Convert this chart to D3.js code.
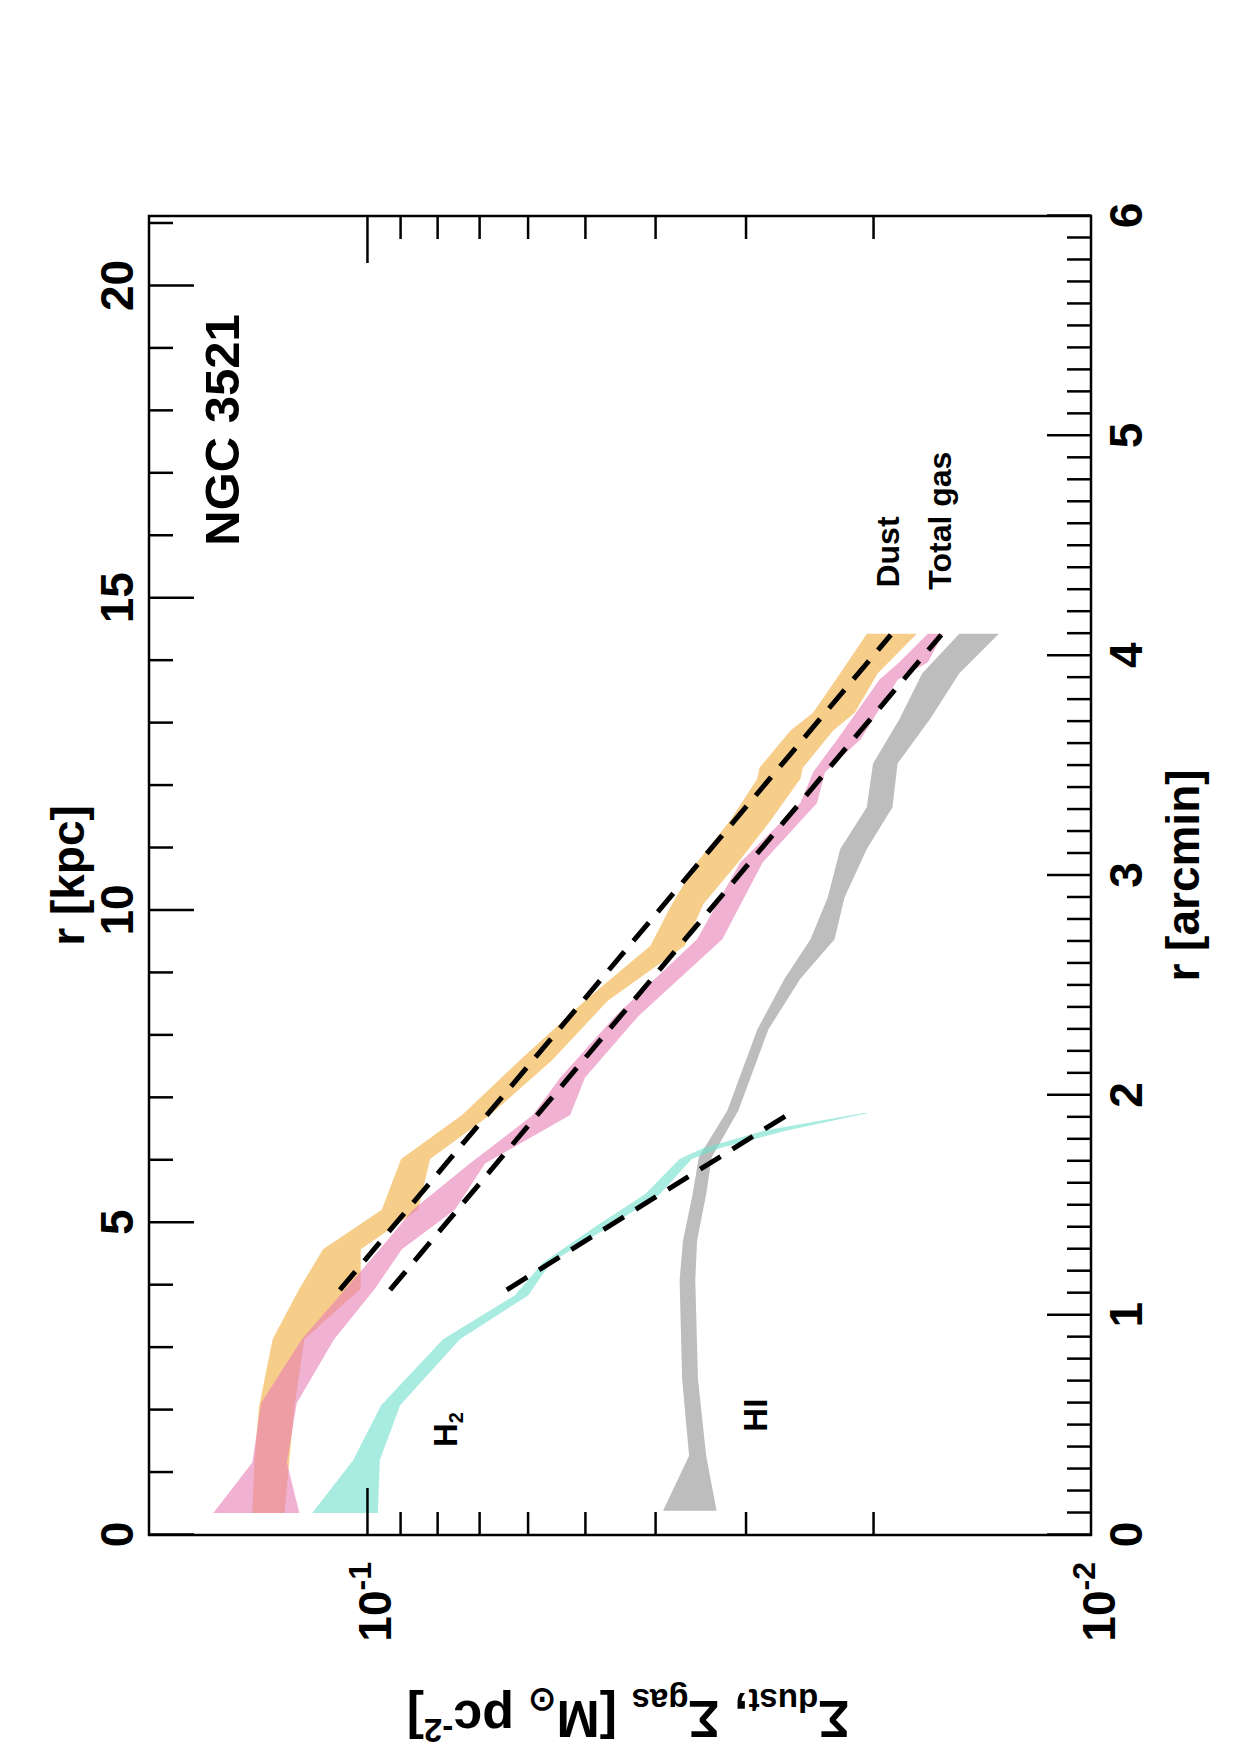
<!DOCTYPE html>
<html>
<head>
<meta charset="utf-8">
<script src="https://cdn.jsdelivr.net/npm/d3@7"></script>
<style>
  body { margin: 0; background: #fff; }
  text { font-family: "Liberation Sans", Arial, Helvetica, sans-serif; font-weight: bold; }
</style>
</head>
<body>
<div id="chart"></div>
<script>
// radial profiles of NGC 3521, r in arcmin, surface densities in Msun/pc^2
var dustR  = [0.10, 0.34, 0.58, 0.89, 1.12, 1.30, 1.48, 1.71, 1.91, 2.16, 2.43, 2.68, 2.87, 3.06, 3.25, 3.44, 3.49, 3.66, 3.74, 3.92, 4.10];
var dustHi = [0.144, 0.143, 0.141, 0.135, 0.124, 0.115, 0.0954, 0.0897, 0.0739, 0.0615, 0.0500, 0.0406, 0.0379, 0.0350, 0.0315, 0.0289, 0.0287, 0.0260, 0.0242, 0.0222, 0.0204];
var dustLo = [0.130, 0.128, 0.126, 0.122, 0.102, 0.102, 0.0850, 0.0818, 0.0676, 0.0555, 0.0465, 0.0364, 0.0343, 0.0307, 0.0277, 0.0252, 0.0250, 0.0227, 0.0212, 0.0197, 0.0174];

var gasR  = [0.10, 0.33, 0.60, 0.89, 1.12, 1.30, 1.48, 1.69, 1.91, 2.08, 2.36, 2.71, 3.06, 3.33, 3.47, 3.62, 3.89, 3.97, 4.10];
var gasHi = [0.163, 0.144, 0.140, 0.123, 0.107, 0.096, 0.0864, 0.0721, 0.0590, 0.0541, 0.0454, 0.0350, 0.0305, 0.0252, 0.0242, 0.0224, 0.0196, 0.0184, 0.0168];
var gasLo = [0.124, 0.129, 0.125, 0.111, 0.0975, 0.0895, 0.0756, 0.0687, 0.0524, 0.0500, 0.0422, 0.0323, 0.0284, 0.0239, 0.0233, 0.0208, 0.0185, 0.0168, 0.0160];

var h2R  = [0.10, 0.34, 0.59, 0.89, 1.09, 1.24, 1.41, 1.55, 1.71, 1.76, 1.84, 1.92];
var h2Hi = [0.119, 0.1045, 0.0956, 0.0785, 0.0625, 0.0571, 0.0480, 0.0413, 0.0370, 0.0343, 0.0282, 0.0206];
var h2Lo = [0.0966, 0.0960, 0.0900, 0.0744, 0.0599, 0.0557, 0.0459, 0.0394, 0.0356, 0.0325, 0.0263, 0.0203];

var hiR  = [0.11, 0.36, 0.71, 1.16, 1.34, 1.55, 1.72, 1.93, 2.30, 2.53, 2.71, 2.90, 3.12, 3.31, 3.51, 3.71, 3.92, 4.10];
var hiHi = [0.0390, 0.0359, 0.0367, 0.0370, 0.0366, 0.0355, 0.0348, 0.0318, 0.0289, 0.0265, 0.0244, 0.0231, 0.0222, 0.0204, 0.0200, 0.0184, 0.0171, 0.0152];
var hiLo = [0.0329, 0.0340, 0.0349, 0.0352, 0.0350, 0.0340, 0.0334, 0.0307, 0.0279, 0.0252, 0.0226, 0.0219, 0.0204, 0.0188, 0.0185, 0.0167, 0.0152, 0.0134];

// exponential fits (end points)
var dustFitR = [1.115, 4.095], dustFitV = [0.109, 0.0189];
var gasFitR  = [1.115, 4.095], gasFitV  = [0.0929, 0.0161];
var h2FitR   = [1.115, 1.934], h2FitV   = [0.0641, 0.0256];

var arcTicks = [0, 1, 2, 3, 4, 5, 6];
var kpcTicks = [0, 5, 10, 15, 20];
var logMinor = [0.02, 0.03, 0.04, 0.05, 0.06, 0.07, 0.08, 0.09];
var kpcPerArcmin = 3.52;

// plot is drawn in landscape and then turned by -90 degrees
var W = 1319, H = 942;

var svg = d3.select("#chart").append("svg")
    .attr("width", 1240)
    .attr("height", 1755);
svg.append("rect").attr("width", 1240).attr("height", 1755).attr("fill", "#ffffff");

var g = svg.append("g").attr("transform", "translate(149,1535) rotate(-90)");

var x = d3.scaleLinear().domain([0, 6]).range([0, W]);
var xk = d3.scaleLinear().domain([0, 6 * kpcPerArcmin]).range([0, W]);
var y = d3.scaleLog().domain([0.01, 0.2]).range([H, 0]);

function zip(r, hi, lo) {
  return r.map(function(d, i) { return { r: d, hi: hi[i], lo: lo[i] }; });
}

var area = d3.area()
    .x(function(d) { return x(d.r); })
    .y0(function(d) { return y(d.lo); })
    .y1(function(d) { return y(d.hi); });

g.append("path").datum(zip(hiR, hiHi, hiLo)).attr("d", area).attr("fill", "#bdbdbd");
g.append("path").datum(zip(dustR, dustHi, dustLo)).attr("d", area).attr("fill", "#f7cd8a");
g.append("path").datum(zip(gasR, gasHi, gasLo)).attr("d", area).attr("fill", "rgb(232,125,182)").attr("fill-opacity", 0.6);
g.append("path").datum(zip(h2R, h2Hi, h2Lo)).attr("d", area).attr("fill", "rgb(110,222,203)").attr("fill-opacity", 0.6);

var line = d3.line()
    .x(function(d) { return x(d.r); })
    .y(function(d) { return y(d.v); });

[[dustFitR, dustFitV], [gasFitR, gasFitV], [h2FitR, h2FitV]].forEach(function(f) {
  var pts = f[0].map(function(d, i) { return { r: d, v: f[1][i] }; });
  g.append("path").datum(pts).attr("d", line)
    .attr("fill", "none")
    .attr("stroke", "#000")
    .attr("stroke-width", 5)
    .attr("stroke-dasharray", "24,14");
});

// axes
function styleAxis(sel, fs) {
  sel.select(".domain").remove();
  sel.selectAll("line").attr("stroke", "#000").attr("stroke-width", 2.5);
  sel.selectAll("text")
    .attr("font-size", fs)
    .attr("font-family", "'Liberation Sans', Arial, sans-serif")
    .attr("font-weight", "bold")
    .attr("fill", "#000");
}

var arcMinor = d3.range(1, 60).filter(function(d) { return d % 10 != 0; }).map(function(d) { return d / 10; });
var kpcMinor = d3.range(1, 22).filter(function(d) { return d % 5 != 0; });

g.append("g").attr("transform", "translate(0," + H + ")")
  .call(d3.axisBottom(x).tickValues(arcMinor).tickSizeInner(-24).tickSizeOuter(0).tickFormat(""))
  .call(styleAxis, 46);
g.append("g").attr("transform", "translate(0," + H + ")")
  .call(d3.axisBottom(x).tickValues(arcTicks).tickSizeInner(-44).tickSizeOuter(0).tickPadding(18).tickFormat(d3.format("d")))
  .call(styleAxis, 46);

g.append("g")
  .call(d3.axisTop(xk).tickValues(kpcMinor).tickSizeInner(-24).tickSizeOuter(0).tickFormat(""))
  .call(styleAxis, 46);
g.append("g")
  .call(d3.axisTop(xk).tickValues(kpcTicks).tickSizeInner(-45).tickSizeOuter(0).tickPadding(16).tickFormat(d3.format("d")))
  .call(styleAxis, 46);

g.append("g")
  .call(d3.axisLeft(y).tickValues(logMinor).tickSizeInner(-23).tickSizeOuter(0).tickFormat(""))
  .call(styleAxis, 46);
g.append("g")
  .call(d3.axisLeft(y).tickValues([0.1]).tickSizeInner(-47).tickSizeOuter(0).tickFormat(""))
  .call(styleAxis, 46);
g.append("g").attr("transform", "translate(" + W + ",0)")
  .call(d3.axisRight(y).tickValues(logMinor).tickSizeInner(-23).tickSizeOuter(0).tickFormat(""))
  .call(styleAxis, 46);
g.append("g").attr("transform", "translate(" + W + ",0)")
  .call(d3.axisRight(y).tickValues([0.1]).tickSizeInner(-47).tickSizeOuter(0).tickFormat(""))
  .call(styleAxis, 46);

// power-of-ten labels
[[0.1, "-1"], [0.01, "-2"]].forEach(function(p) {
  var t = g.append("text")
    .attr("x", -27)
    .attr("y", y(p[0]) + 24)
    .attr("text-anchor", "end")
    .attr("font-size", 46);
  t.append("tspan").text("10");
  t.append("tspan").attr("font-size", 32).attr("dy", -20).text(p[1]);
});

// frame
g.append("rect")
  .attr("width", W).attr("height", H)
  .attr("fill", "none").attr("stroke", "#000").attr("stroke-width", 2.5);

// axis titles
g.append("text").attr("x", W / 2).attr("y", 1050).attr("text-anchor", "middle")
  .attr("font-size", 46).text("r [arcmin]");
g.append("text").attr("x", W / 2).attr("y", -65).attr("text-anchor", "middle")
  .attr("font-size", 46).text("r [kpc]");

var yt = g.append("text")
  .attr("transform", "translate(-166," + (H / 2 + 8) + ") rotate(-90)")
  .attr("text-anchor", "middle")
  .attr("font-size", 52);
yt.append("tspan").text("\u03A3");
yt.append("tspan").attr("font-size", 33).attr("dy", 12).text("dust");
yt.append("tspan").attr("dy", -12).text(", \u03A3");
yt.append("tspan").attr("font-size", 33).attr("dy", 12).text("gas");
yt.append("tspan").attr("dy", -12).text("  [M");
yt.append("tspan").attr("font-size", 33).attr("dy", 12).text("\u2299");
yt.append("tspan").attr("dy", -12).text("  pc");
yt.append("tspan").attr("font-size", 33).attr("dy", -18).text("-2");
yt.append("tspan").attr("dy", 18).text("]");

// annotations
g.append("text").attr("x", x(4.50)).attr("y", y(0.150)).attr("font-size", 49).text("NGC 3521");
g.append("text").attr("x", x(4.31)).attr("y", y(0.0184)).attr("font-size", 32).text("Dust");
g.append("text").attr("x", x(4.30)).attr("y", y(0.0156)).attr("font-size", 32).text("Total gas");
var h2t = g.append("text").attr("x", x(0.40)).attr("y", y(0.0751)).attr("font-size", 33);
h2t.append("tspan").text("H");
h2t.append("tspan").attr("font-size", 20).attr("dy", 6).text("2");
g.append("text").attr("x", x(0.47)).attr("y", y(0.028)).attr("font-size", 33).text("HI");
</script>
</body>
</html>
